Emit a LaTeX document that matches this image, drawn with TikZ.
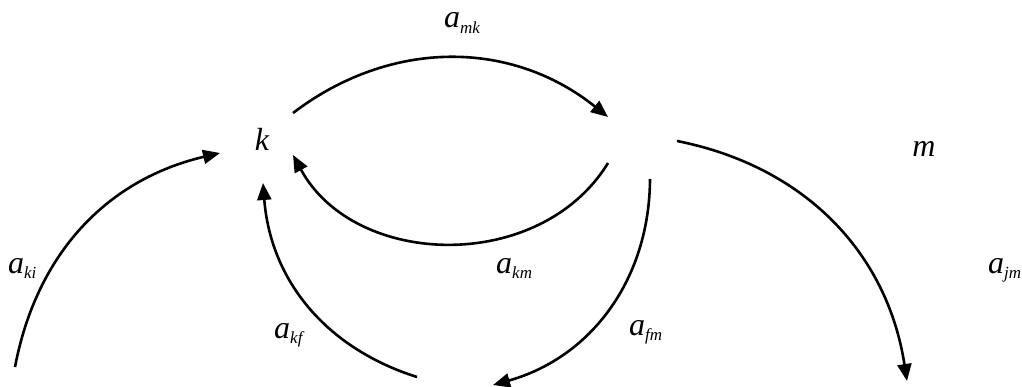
\documentclass[tikz,border=0pt]{standalone}
\usepackage{fontspec}
\setmainfont{Liberation Serif}
\usetikzlibrary{arrows.meta}
\newcommand\lbl[2]{\fontsize{32}{34}\selectfont\itshape #1\raisebox{-0.18em}{\fontsize{17}{19}\selectfont #2}}
\begin{document}
\begin{tikzpicture}[x=1pt,y=-1pt,
  conn/.style={line width=2.6pt,-{Triangle[length=17pt,width=14pt]}},
  vert/.style={inner sep=0pt,font=\fontsize{32}{34}\selectfont\itshape},
  elbl/.style={inner sep=0pt,anchor=base west}]
\useasboundingbox (0,0) rectangle (1022,387);
% vertex labels
\node[vert] (k) at (262,139) {k};
\node[vert] (m) at (924,149) {m};
% edge labels
\node[elbl] (lmk) at (444,28) {\lbl{a}{mk}};
\node[elbl] (lkm) at (496,273) {\lbl{a}{km}};
\node[elbl] (lfm) at (629,335) {\lbl{a}{fm}};
\node[elbl] (ljm) at (988,273) {\lbl{a}{jm}};
\node[elbl] (lki) at (8,273) {\lbl{a}{ki}};
\node[elbl] (lkf) at (274,338) {\lbl{a}{kf}};
% connector endpoints
\coordinate (mkS) at (293,113);
\coordinate (mkE) at (608,117);
\coordinate (kmS) at (608,163);
\coordinate (kmE) at (293,155);
\coordinate (fmS) at (650,179);
\coordinate (fmE) at (493,385);
\coordinate (jmS) at (677,141);
\coordinate (jmE) at (907,381);
\coordinate (kiS) at (15,367);
\coordinate (kiE) at (220,153);
\coordinate (kfS) at (417,377);
\coordinate (kfE) at (263,183);
% connectors
\draw[conn] (mkS) to[bend left=38] (mkE);
\draw[conn] (kmS) to[bend left=60,looseness=1.05] (kmE);
\draw[conn] (fmS) to[bend left=37] (fmE);
\draw[conn] (jmS) to[bend left=35] (jmE);
\draw[conn] (kiS) to[bend left=33] (kiE);
\draw[conn] (kfS) to[bend left=34] (kfE);
\end{tikzpicture}
\end{document}
